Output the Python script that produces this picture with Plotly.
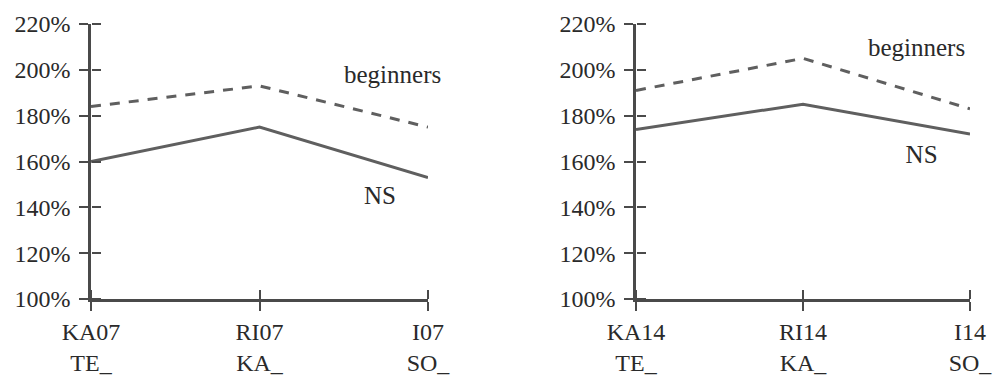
import plotly.graph_objects as go

# ---- data ----
cats_07 = ["KA07", "RI07", "I07"]
cats_14 = ["KA14", "RI14", "I14"]
row2_labels = ["TE_", "KA_", "SO_"]
beginners_07 = [184, 193, 175]
ns_07 = [160, 175, 153]
beginners_14 = [191, 205, 183]
ns_14 = [174, 185, 172]
y_ticks = [100, 120, 140, 160, 180, 200, 220]
series_names = ["beginners", "NS"]

FONT = "Liberation Serif"
TXT = "#2a2a2a"
LINE = "#5f5f5f"
AX = "#4a4a4a"

fig = go.Figure()
ydom = [1 - 299 / 379, 1 - 24 / 379]
xdoms = [[91 / 995, 428 / 995], [636 / 995, 970 / 995]]
fig.update_layout(width=995, height=379, margin=dict(l=0, r=0, t=0, b=0),
                  paper_bgcolor="white", plot_bgcolor="white", showlegend=False)
panels = [(cats_07, beginners_07, ns_07), (cats_14, beginners_14, ns_14)]
# where each panel's series names sit (x in category index units, y in %)
label_pos = [[(1.79, 197), (1.715, 144)], [(1.68, 208.6), (1.71, 162)]]

for i, ((cats, beg, ns), dom, lp) in enumerate(zip(panels, xdoms, label_pos), start=1):
    sfx = "" if i == 1 else str(i)
    xa, ya = "x" + sfx, "y" + sfx
    xi = list(range(len(cats)))
    fig.add_trace(go.Scatter(x=xi, y=beg, mode="lines", xaxis=xa, yaxis=ya,
                             line=dict(color=LINE, width=3, dash="10px,9px"),
                             showlegend=False, hoverinfo="skip"))
    fig.add_trace(go.Scatter(x=xi, y=ns, mode="lines", xaxis=xa, yaxis=ya,
                             line=dict(color=LINE, width=3),
                             showlegend=False, hoverinfo="skip"))
    fig.add_trace(go.Scatter(x=[p[0] for p in lp], y=[p[1] for p in lp], mode="text",
                             text=series_names, textposition="middle center",
                             textfont=dict(family=FONT, size=25, color=TXT),
                             xaxis=xa, yaxis=ya, cliponaxis=False,
                             showlegend=False, hoverinfo="skip"))
    fig.layout["xaxis" + sfx] = dict(
        domain=dom, anchor=ya, range=[0, 2], tickvals=xi,
        ticktext=[f"{c}<br>{r}" for c, r in zip(cats, row2_labels)],
        showgrid=False, zeroline=False, showline=True, linecolor=AX, linewidth=2.5,
        ticks="outside", ticklen=9, tickwidth=2, tickcolor=AX,
        tickfont=dict(family=FONT, size=24, color=TXT), automargin=False, fixedrange=True)
    fig.layout["yaxis" + sfx] = dict(
        domain=ydom, anchor=xa, range=[100, 220], tickvals=y_ticks,
        ticktext=[f"{v}%" for v in y_ticks],
        showgrid=False, zeroline=False, showline=True, linecolor=AX, linewidth=2.5,
        ticks="outside", ticklen=9, tickwidth=2, tickcolor=AX,
        tickfont=dict(family=FONT, size=24, color=TXT), automargin=False,
        ticklabelstandoff=4, fixedrange=True)
    # overlay axes (free, opposite side) drawing the inner half of the crossing ticks
    xo = str(i + 2)
    yo = str(i + 2)
    fig.layout["xaxis" + xo] = dict(
        domain=dom, anchor="free", position=ydom[0], side="top", overlaying=xa,
        range=[0, 2], tickvals=xi, showticklabels=True, automargin=False,
        tickfont=dict(color="rgba(0,0,0,0)"),
        ticks="outside", ticklen=9, tickwidth=2, tickcolor=AX,
        showgrid=False, zeroline=False, showline=False, fixedrange=True)
    fig.layout["yaxis" + yo] = dict(
        domain=ydom, anchor="free", position=dom[0], side="right", overlaying=ya,
        range=[100, 220], tickvals=y_ticks, automargin=False,
        showticklabels=True, tickfont=dict(color="rgba(0,0,0,0)"),
        ticks="outside", ticklen=9, tickwidth=2, tickcolor=AX,
        showgrid=False, zeroline=False, showline=False, fixedrange=True)
    fig.add_trace(go.Scatter(x=xi, y=ns, xaxis="x" + xo, yaxis=ya, mode="lines",
                             line=dict(width=0), opacity=0,
                             showlegend=False, hoverinfo="skip"))
    fig.add_trace(go.Scatter(x=xi, y=ns, xaxis=xa, yaxis="y" + yo, mode="lines",
                             line=dict(width=0), opacity=0,
                             showlegend=False, hoverinfo="skip"))

fig.write_html("out.html")
